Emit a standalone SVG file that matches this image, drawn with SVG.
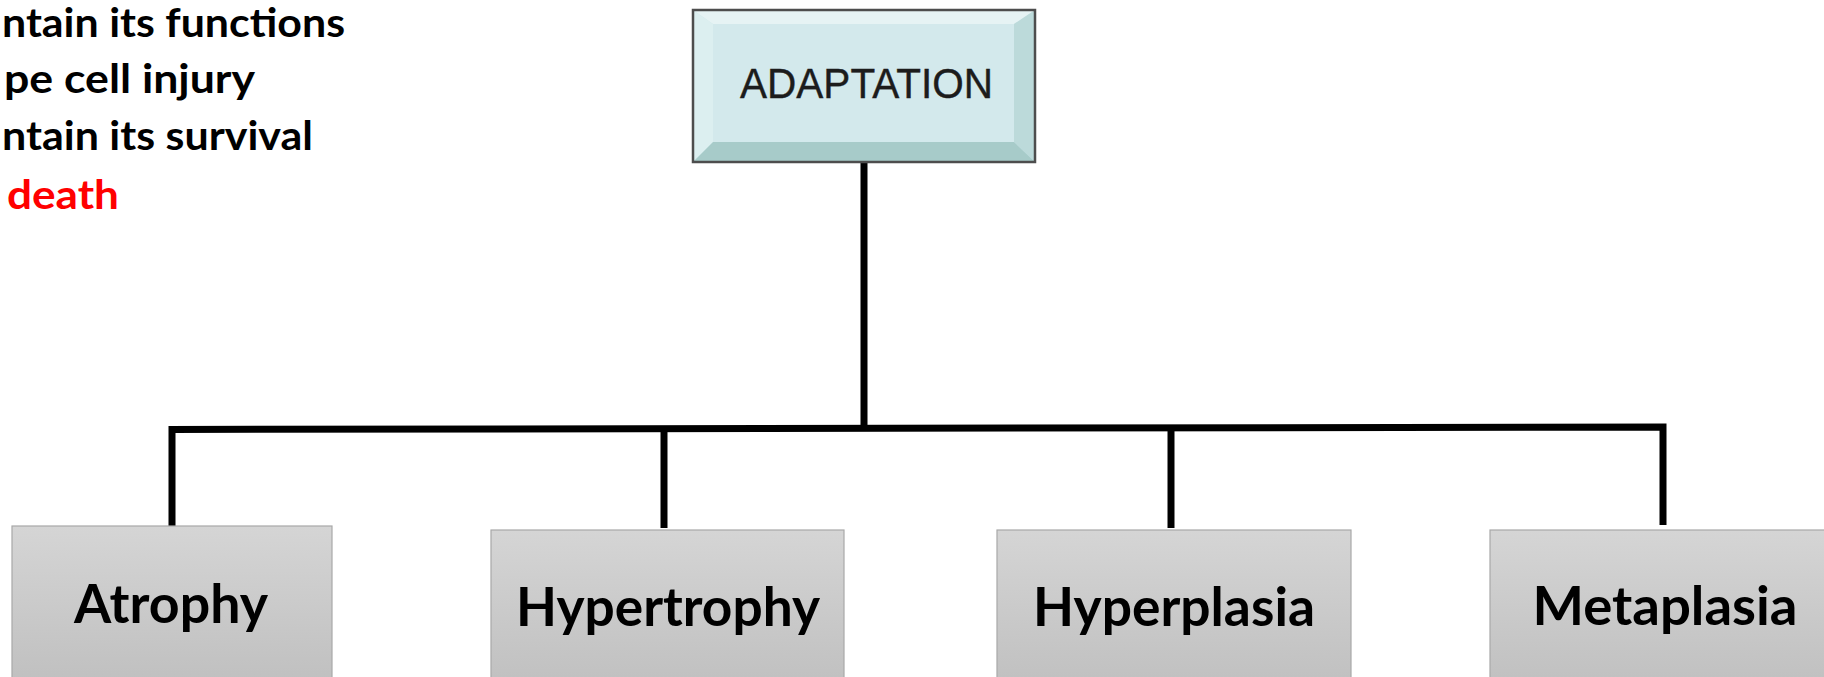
<svg xmlns="http://www.w3.org/2000/svg" width="1824" height="677" viewBox="0 0 1824 677">
  <defs>
    <linearGradient id="grayGrad" x1="0" y1="0" x2="0" y2="1">
      <stop offset="0" stop-color="#d5d5d5"/>
      <stop offset="1" stop-color="#bebebe"/>
    </linearGradient>
    <style>
      .side { font-family: Lato, "Open Sans", "Liberation Sans", sans-serif; font-weight: bold; font-size: 41px; fill: #000; }
      .box { fill: url(#grayGrad); stroke: #a8a8a8; stroke-width: 1.2; }
      .lbl { font-family: Lato, "Open Sans", "Liberation Sans", sans-serif; font-weight: bold; font-size: 53px; fill: #000; text-anchor: middle; }
      .conn { fill: none; stroke: #000; stroke-width: 7; stroke-linejoin: miter; stroke-linecap: butt; }
      .top { font-family: "Liberation Sans", Arial, sans-serif; font-size: 42px; fill: #1c1c1c; text-anchor: middle; stroke: #1c1c1c; stroke-width: 0.4; }
    </style>
  </defs>
  <rect width="1824" height="677" fill="#fff"/>

  <g id="side-text">
    <text class="side" x="2" y="37" textLength="343" lengthAdjust="spacingAndGlyphs">ntain its functions</text>
    <text class="side" x="4" y="93" textLength="251" lengthAdjust="spacingAndGlyphs">pe cell injury</text>
    <text class="side" x="2" y="150" textLength="311" lengthAdjust="spacingAndGlyphs">ntain its survival</text>
    <text class="side" x="7" y="209" textLength="112" lengthAdjust="spacingAndGlyphs" style="fill:#ff0000">death</text>
  </g>

  <g id="connectors">
    <line class="conn" x1="864" y1="163" x2="864" y2="430"/>
    <path class="conn" d="M172,526 L172,429.5 L1663,427 L1663,525"/>
    <line class="conn" x1="664" y1="428.5" x2="664" y2="528"/>
    <line class="conn" x1="1171" y1="428" x2="1171" y2="528"/>
  </g>

  <g id="node-adaptation">
    <rect x="693" y="10" width="342" height="152" fill="#d3e9ec"/>
    <polygon points="693,10 1035,10 1014,24 713,24" fill="#e6f3f4"/>
    <polygon points="693,10 713,24 713,142 693,162" fill="#dceff0"/>
    <polygon points="1035,10 1035,162 1014,142 1014,24" fill="#bcdada"/>
    <polygon points="693,162 713,142 1014,142 1035,162" fill="#a7cbc9"/>
    <rect x="693" y="10" width="342" height="152" fill="none" stroke="#4d4d4d" stroke-width="2.5"/>
    <text class="top" x="866.5" y="98" textLength="253" lengthAdjust="spacingAndGlyphs">ADAPTATION</text>
  </g>

  <g id="node-atrophy">
    <rect class="box" x="12" y="526" width="320" height="170"/>
    <text class="lbl" x="171" y="623" textLength="194" lengthAdjust="spacingAndGlyphs">Atrophy</text>
  </g>

  <g id="node-hypertrophy">
    <rect class="box" x="491" y="530" width="353" height="170"/>
    <text class="lbl" x="668" y="626" textLength="304" lengthAdjust="spacingAndGlyphs">Hypertrophy</text>
  </g>

  <g id="node-hyperplasia">
    <rect class="box" x="997" y="530" width="354" height="170"/>
    <text class="lbl" x="1174" y="626" textLength="282" lengthAdjust="spacingAndGlyphs">Hyperplasia</text>
  </g>

  <g id="node-metaplasia">
    <rect class="box" x="1490" y="530" width="345" height="170"/>
    <text class="lbl" x="1665" y="625" textLength="265" lengthAdjust="spacingAndGlyphs">Metaplasia</text>
  </g>
</svg>
